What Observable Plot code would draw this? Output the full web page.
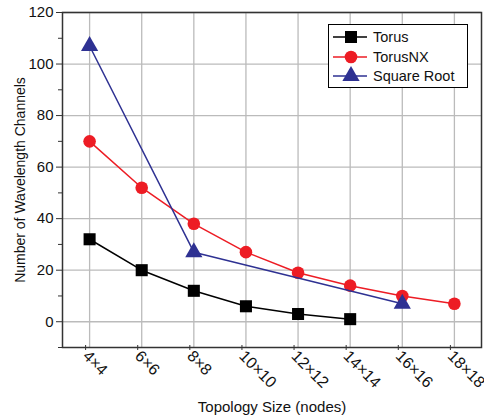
<!DOCTYPE html>
<html><head><meta charset="utf-8">
<script src="https://cdn.jsdelivr.net/npm/d3@7"></script>
<script src="https://cdn.jsdelivr.net/npm/@observablehq/plot@0.6"></script>
<style>
body{margin:0;background:#fff;font-family:"Liberation Sans",Arial,sans-serif}
#legend{position:absolute;left:328px;top:24px;width:140px;height:64px;border:1px solid #000;background:#fff;box-sizing:border-box}
#legend .row{position:absolute;left:0;height:20px;display:flex;align-items:center}
#legend span{font-size:14.5px;color:#111;margin-left:4px}
</style>
</head><body><div id="chart" style="position:relative;width:484px;height:417px"></div>
<script>
const sizes = ["4×4","6×6","8×8","10×10","12×12","14×14","16×16","18×18"];
const torusSizes = ["4×4","6×6","8×8","10×10","12×12","14×14"];
const torusVals = [32,20,12,6,3,1];
const torusNXSizes = ["4×4","6×6","8×8","10×10","12×12","14×14","16×16","18×18"];
const torusNXVals = [70,52,38,27,19,14,10,7];
const sqrtSizes = ["4×4","8×8","16×16"];
const sqrtVals = [107,27,7];
const yTicks = [0,20,40,60,80,100,120];
const yMinor = [-10,10,30,50,70,90,110];

const seriesDefs = [
  {name:"Torus", sizes:torusSizes, vals:torusVals, color:"#000000", symbol:"square", r:6.8},
  {name:"TorusNX", sizes:torusNXSizes, vals:torusNXVals, color:"#ed1c24", symbol:"circle", r:6.3},
  {name:"Square Root", sizes:sqrtSizes, vals:sqrtVals, color:"#2e3192", symbol:"triangle", r:6.4}
];
const rows = seriesDefs.flatMap(s => s.sizes.map((sz,i) => ({series:s.name, idx:sizes.indexOf(sz), value:s.vals[i]})));

const marks = [
  Plot.gridY(yTicks, {stroke:"#bbb", strokeOpacity:1, strokeWidth:1.3}),
  Plot.gridX(d3.range(sizes.length), {stroke:"#bbb", strokeOpacity:1, strokeWidth:1.3}),
  Plot.axisY(yMinor, {tickSize:4, text:null, stroke:"#333", label:null}),
  Plot.axisY(yTicks, {tickSize:6, stroke:"#333", tickPadding:3, fontSize:15, label:null}),
  Plot.axisY({ticks:[], tickSize:0, label:"Number of Wavelength Channels", labelAnchor:"center", labelArrow:"none", labelOffset:47, fontSize:14, dy:-12}),
  Plot.axisX(d3.range(sizes.length), {tickSize:5, stroke:"#333", tickRotate:45, tickPadding:3, fontSize:16, dx:-4, dy:-2, tickFormat:i => sizes[i], label:null}),
  Plot.axisX({ticks:[], tickSize:0, label:"Topology Size (nodes)", labelAnchor:"center", labelArrow:"none", labelOffset:64, fontSize:15}),
  Plot.frame({stroke:"#333", strokeWidth:1.5})
];
for (const s of seriesDefs) {
  const d = rows.filter(r => r.series === s.name);
  marks.push(Plot.line(d, {x:"idx", y:"value", stroke:s.color, strokeWidth:1.5}));
  marks.push(Plot.dot(d, {x:"idx", y:"value", fill:s.color, stroke:"none", symbol:() => s.symbol, r:s.r}));
}

const chart = Plot.plot({
  width:484, height:417,
  marginLeft:62, marginRight:3, marginTop:12, marginBottom:70,
  style:{fontFamily:"'Liberation Sans', Arial, sans-serif", color:"#111", background:"#fff", overflow:"visible"},
  x:{type:"linear", domain:[-0.52, 7.52]},
  y:{domain:[-10,120]},
  symbol:{type:"identity"},
  marks
});
const host = document.getElementById("chart");
host.appendChild(chart);

// legend
const leg = document.createElement("div");
leg.id = "legend";
const symPaths = {square:d3.symbolSquare, circle:d3.symbolCircle, triangle:d3.symbolTriangle};
seriesDefs.forEach((s,i) => {
  const row = document.createElement("div");
  row.className = "row";
  row.style.top = (2 + i*19.5) + "px";
  const svg = d3.create("svg").attr("width",40).attr("height",20);
  svg.append("line").attr("x1",4).attr("x2",38).attr("y1",10).attr("y2",10).attr("stroke",s.color).attr("stroke-width",1.5);
  svg.append("path").attr("transform","translate(22,10)").attr("d", d3.symbol(symPaths[s.symbol], Math.PI*s.r*s.r)()).attr("fill",s.color);
  row.appendChild(svg.node());
  const t = document.createElement("span");
  t.textContent = s.name;
  row.appendChild(t);
  leg.appendChild(row);
});
host.appendChild(leg);
</script>
</body></html>
